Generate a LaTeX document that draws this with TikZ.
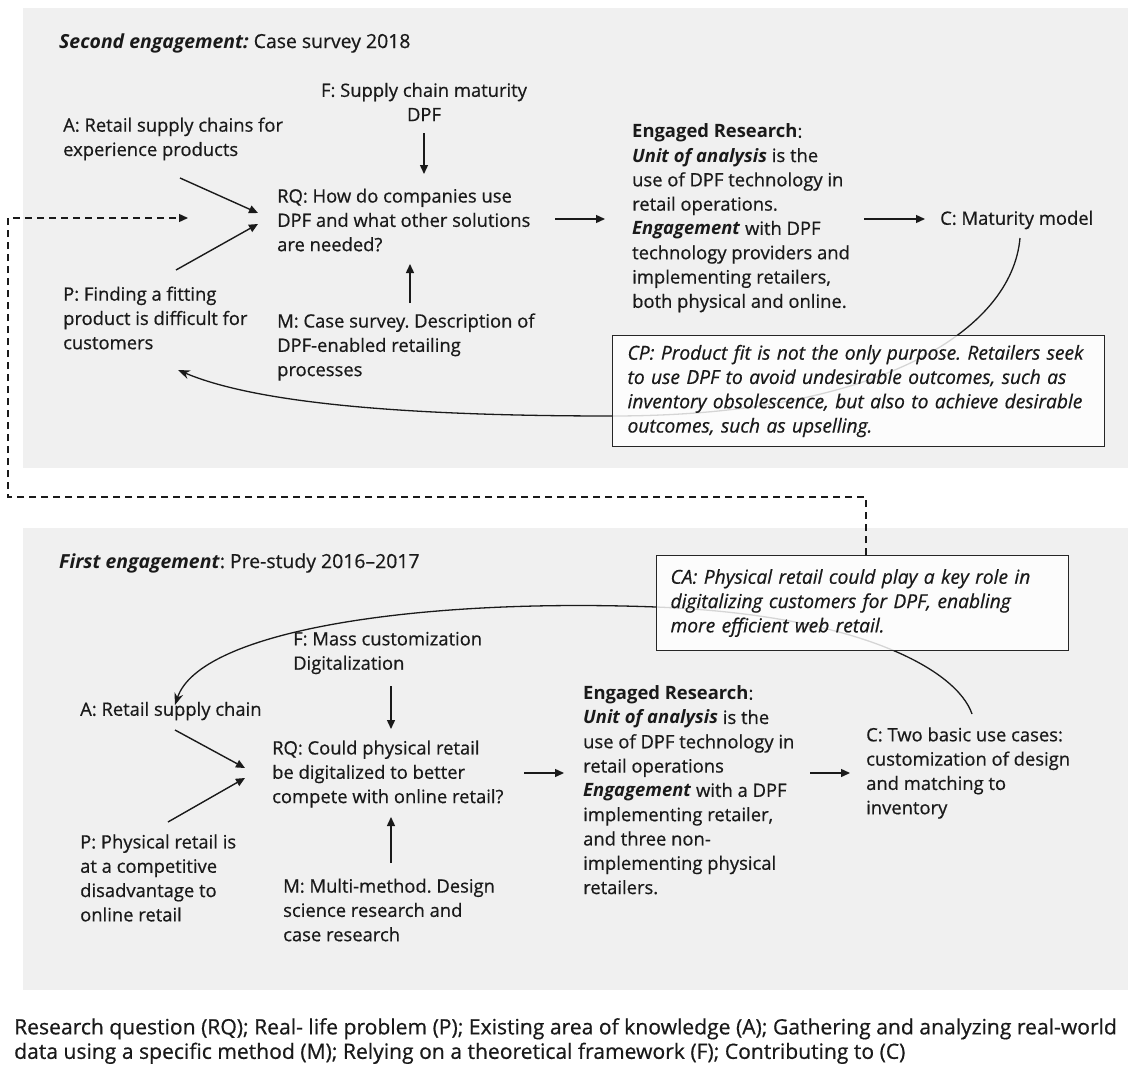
\documentclass[tikz,border=0pt]{standalone}
\usepackage{fontspec}
\setmainfont{Open Sans}[UprightFeatures={FakeBold=0.6}, ItalicFeatures={FakeBold=0.6}]
\usetikzlibrary{arrows.meta}
\frenchspacing
\newcommand{\bodyfont}{\fontsize{18.4}{24.3}\selectfont}
\newcommand{\notefont}{\fontsize{19.2}{24.3}\selectfont\itshape}
\newcommand{\headfont}{\fontsize{19.4}{24.3}\selectfont}
\begin{document}
\begin{tikzpicture}[x=1pt,y=-1pt,
  panel/.style={fill=panelgray, draw=none},
  txt/.style={anchor=west, align=left, inner sep=0pt, font=\bodyfont, text=textgray},
  ctxt/.style={anchor=center, align=center, inner sep=0pt, font=\bodyfont, text=textgray},
  head/.style={txt, font=\headfont},
  note/.style={draw=black!85, line width=1.1pt, fill=white, fill opacity=0.82, text opacity=1,
    anchor=north west, inner xsep=14pt, inner ysep=0pt, align=left, font=\notefont, text=textgray},
  link/.style={line width=1.4pt, draw=textgray, -{Triangle[length=9pt,width=8pt]}},
  backlink/.style={line width=1.3pt, draw=textgray, -{Stealth[length=12pt,width=9pt]}},
  feedback/.style={line width=1.4pt, draw=textgray, dash pattern=on 7pt off 5pt, -{Triangle[length=9pt,width=8pt]}}
]
\definecolor{panelgray}{HTML}{F0F0F0}
\definecolor{textgray}{HTML}{1A1A1A}
\useasboundingbox (0,0) rectangle (1128,1073);
\fill[white] (0,0) rectangle (1128,1073);

% ---------- panels ----------
\node[panel, anchor=north west, minimum width=1105pt, minimum height=460pt, inner sep=0pt] (top) at (23,8) {};
\node[panel, anchor=north west, minimum width=1105pt, minimum height=462pt, inner sep=0pt] (bottom) at (23,528) {};

% ---------- second engagement ----------
\node[head] (t1) at (59,43) {\textbf{\textit{Second engagement:}} Case survey 2018};
\node[ctxt] (f1) at (424,102) {F: Supply chain maturity\\DPF};
\node[txt] (a1) at (63,139) {A: Retail supply chains for\\experience products};
\node[txt] (rq1) at (277,220) {RQ: How do companies use\\DPF and what other solutions\\are needed?};
\node[txt] (p1) at (63,318) {P: Finding a fitting\\product is difficult for\\customers};
\node[txt] (m1) at (277,347) {M: Case survey. Description of\\DPF-enabled retailing\\processes};
\node[txt] (er1) at (632,218) {\textbf{Engaged Research}:\\\textbf{\textit{Unit of analysis}} is the\\use of DPF technology in\\retail operations.\\\textbf{\textit{Engagement}} with DPF\\technology providers and\\implementing retailers,\\both physical and online.};
\node[txt] (c1) at (940,220) {C: Maturity model};

\coordinate (cpjoin) at (612,416);
\draw[backlink] (1020,238) .. controls (1012,330) and (880,416) .. (cpjoin)
  .. controls (420,416) and (260,405) .. (178,370);
\node[note, minimum width=492pt, minimum height=111pt, text width=462pt] (cp) at (612,335)
  {CP: Product fit is not the only purpose. Retailers seek\\to use DPF to avoid undesirable outcomes, such as\\inventory obsolescence, but also to achieve desirable\\outcomes, such as upselling.};

\draw[link] (424,133) -- (424,174);
\draw[link] (180,178) -- (258,213);
\draw[link] (176,270) -- (258,224);
\draw[link] (410,303) -- (410,264);
\draw[link] (555,219) -- (605,219);
\draw[link] (864,219) -- (925,219);

% ---------- first engagement ----------
\node[head] (t2) at (59,563) {\textbf{\textit{First engagement}}: Pre-study 2016--2017};
\node[txt] (f2) at (293,653) {F: Mass customization\\Digitalization};
\node[txt] (a2) at (80,711) {A: Retail supply chain};
\node[txt] (rq2) at (272,774) {RQ: Could physical retail\\be digitalized to better\\compete with online retail?};
\node[txt] (p2) at (80,878) {P: Physical retail is\\at a competitive\\disadvantage to\\online retail};
\node[txt] (m2) at (283,910) {M: Multi-method. Design\\science research and\\case research};
\node[txt] (er2) at (583,790) {\textbf{Engaged Research}:\\\textbf{\textit{Unit of analysis}} is the\\use of DPF technology in\\retail operations\\\textbf{\textit{Engagement}} with a DPF\\implementing retailer,\\and three non-\\implementing physical\\retailers.};
\node[txt] (c2) at (866,773) {C: Two basic use cases:\\customization of design\\and matching to\\inventory};

\coordinate (cajoin) at (656,607);
\draw[backlink] (972,714) .. controls (957,670) and (860,615) .. (cajoin)
  .. controls (420,598) and (200,630) .. (175,705);
\node[note, minimum width=412pt, minimum height=95pt, text width=384pt] (ca) at (656,555)
  {CA: Physical retail could play a key role in\\digitalizing customers for DPF, enabling\\more efficient web retail.};

\draw[link] (391,686) -- (391,729);
\draw[link] (175,730) -- (245,768);
\draw[link] (168,822) -- (245,778);
\draw[link] (391,863) -- (391,817);
\draw[link] (524,773) -- (564,773);
\draw[link] (810,773) -- (850,773);

% ---------- feedback from CA to the second engagement ----------
\coordinate (fbturn) at (866,497);
\draw[feedback] (ca.north -| fbturn) -- (fbturn) -- (8,497) -- (8,218) -- (188,218);

% ---------- legend ----------
\node[txt, anchor=north west, font=\fontsize{21.1}{24.5}\selectfont] (legend) at (14,1018)
  {Research question (RQ); Real- life problem (P); Existing area of knowledge (A); Gathering and analyzing real-world\\data using a specific method (M); Relying on a theoretical framework (F); Contributing to (C)};
\end{tikzpicture}
\end{document}
